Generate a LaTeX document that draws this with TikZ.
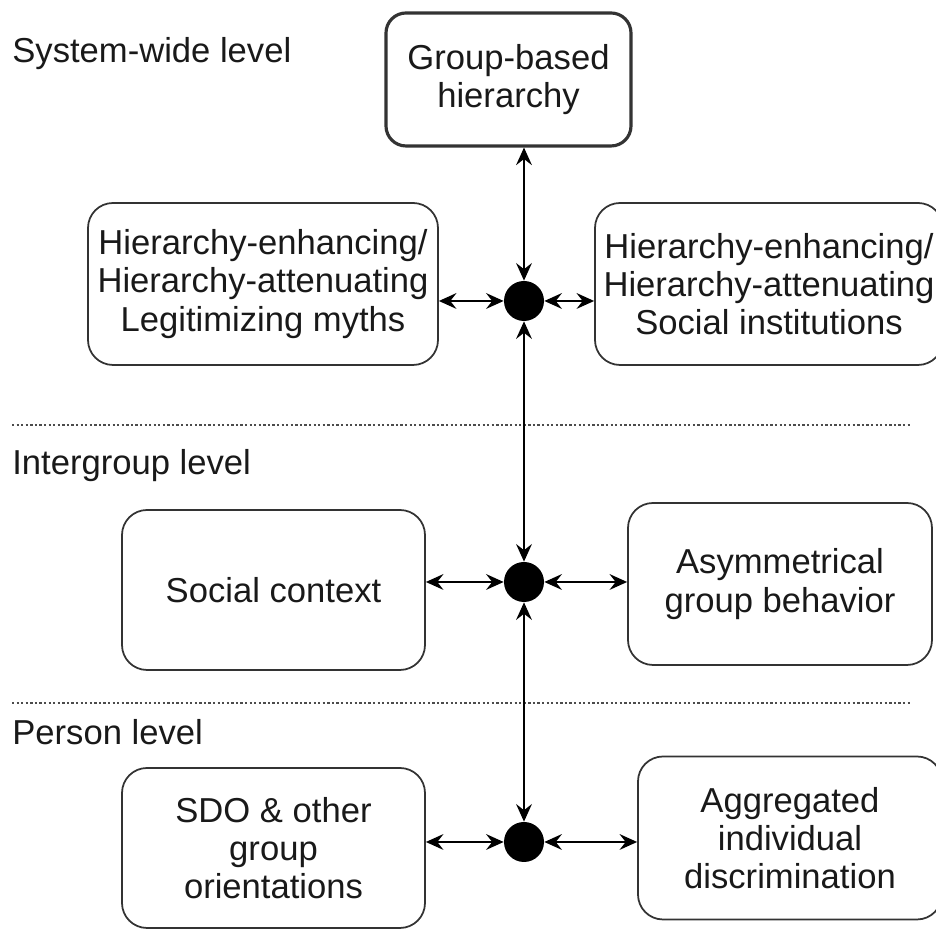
\documentclass[tikz,border=0pt]{standalone}
\usepackage{fontspec}
\setmainfont{Liberation Sans}
\usetikzlibrary{arrows.meta}

\tikzset{
    levelbox/.style={draw=black!80, line width=1pt, rounded corners=0.5cm,
        align=center, inner sep=0pt},
    topbox/.style={levelbox, line width=1.8pt, rounded corners=0.4cm},
    hub/.style={circle, fill=black, minimum size=0.8cm, inner sep=0pt},
    link/.style={{Stealth[length=10pt,width=9pt,inset=3.5pt]}-{Stealth[length=10pt,width=9pt,inset=3.5pt]},
        line width=0.9pt},
    divider/.style={black!70, line width=1pt, dash pattern=on 1.3pt off 1.3pt},
}

\begin{document}
\begin{tikzpicture}[font=\fontsize{19.7}{21.8}\selectfont, text=black!90]
        % page frame
        \clip (0, 0) rectangle (18.72, 18.6);

        % level labels and dividers
        \node[anchor=base west, inner sep=0pt] (sys) at (0.24, 17.34) {System-wide level};
        \node[anchor=base west, inner sep=0pt] (inter) at (0.24, 9.10) {Intergroup level};
        \node[anchor=base west, inner sep=0pt] (pers) at (0.24, 3.70) {Person level};

        \draw[divider] (0.24, 10.10) -- (18.22, 10.10); % upper divider
        \draw[divider] (0.24, 4.54) -- (18.22, 4.54);   % lower divider

        % system-wide level
        \node[topbox, minimum width=4.9cm, minimum height=2.66cm] (hier) at (10.17, 17.01) {Group-based\\hierarchy};
        \node[levelbox, minimum width=7.0cm, minimum height=3.24cm] (myths) at ( 5.26, 12.92) {Hierarchy-enhancing/\\Hierarchy-attenuating\\Legitimizing myths};
        \node[levelbox, minimum width=6.96cm, minimum height=3.24cm] (inst) at (15.38, 12.92) {Hierarchy-enhancing/\\Hierarchy-attenuating\\Social institutions};

        % intergroup level
        \node[levelbox, minimum width=6.06cm, minimum height=3.2cm] (ctx) at ( 5.47, 6.80) {Social context};
        \node[levelbox, minimum width=6.08cm, minimum height=3.24cm] (asym) at (15.60, 6.92) {Asymmetrical\\group behavior};

        % person level
        \node[levelbox, minimum width=6.06cm, minimum height=3.2cm] (sdo) at ( 5.47, 1.64) {SDO \& other\\group\\orientations};
        \node[levelbox, minimum width=6.08cm, minimum height=3.26cm] (aggr) at (15.80, 1.84) {Aggregated\\individual\\discrimination};

        % junctions
        \node[hub] (hubA) at (10.48, 12.58) {};
        \node[hub] (hubB) at (10.48, 6.96) {};
        \node[hub] (hubC) at (10.48, 1.76) {};

        % vertical links
        \draw[link] (hubA |- hier.south) -- (hubA);
        \draw[link] (hubA) -- (hubB);
        \draw[link] (hubB) -- (hubC);

        % horizontal links
        \draw[link] (myths.east |- hubA) -- (hubA);
        \draw[link] (hubA) -- (inst.west |- hubA);
        \draw[link] (ctx.east |- hubB) -- (hubB);
        \draw[link] (hubB) -- (asym.west |- hubB);
        \draw[link] (sdo.east |- hubC) -- (hubC);
        \draw[link] (hubC) -- (aggr.west |- hubC);
\end{tikzpicture}
\end{document}
